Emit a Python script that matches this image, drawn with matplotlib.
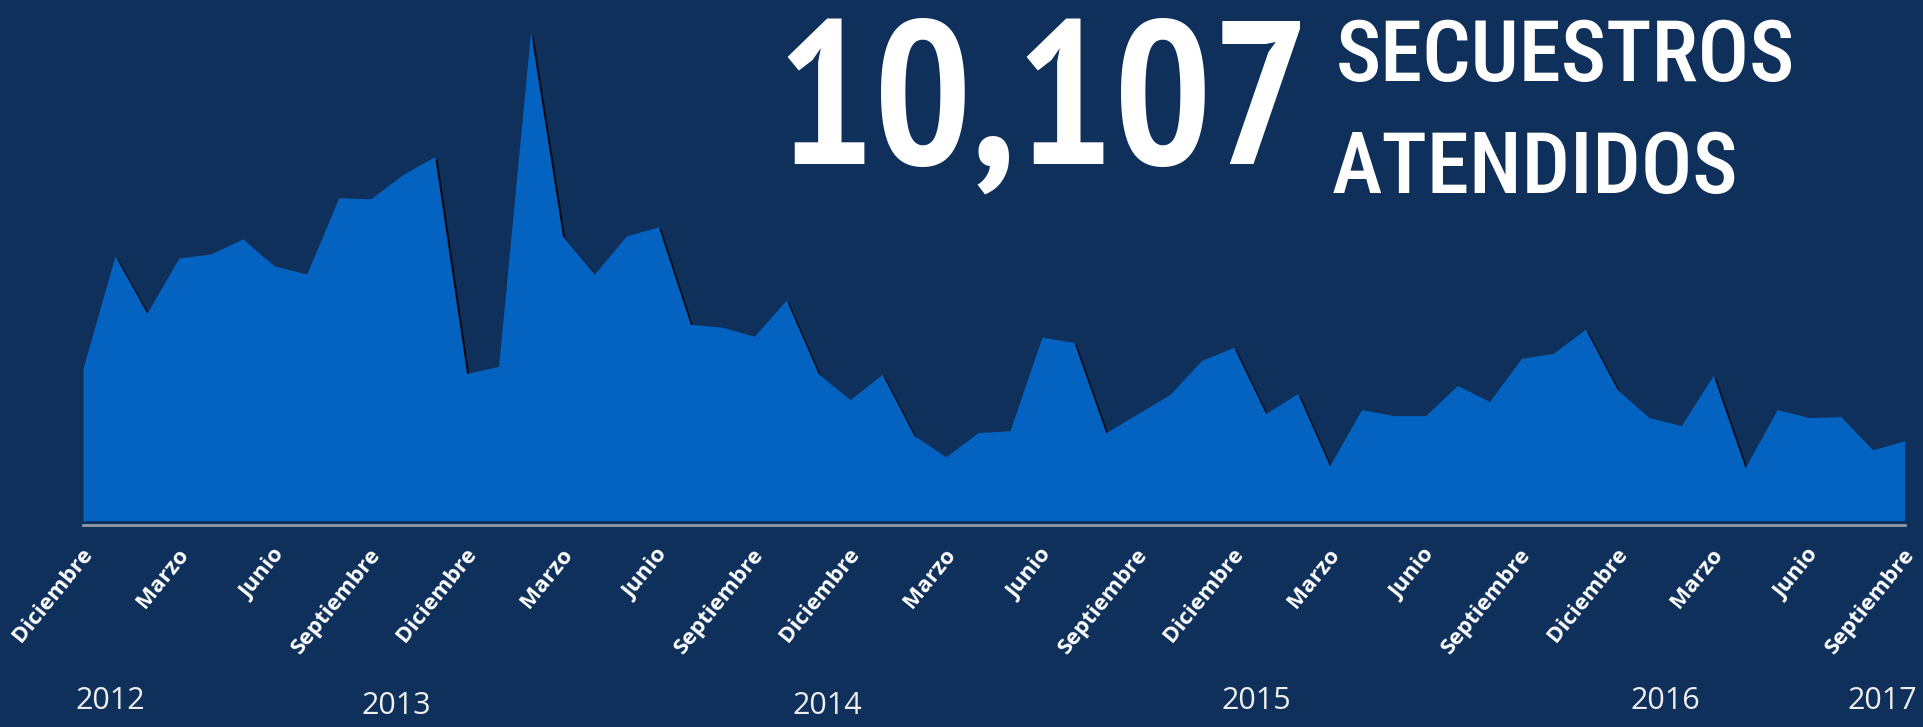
import matplotlib
matplotlib.use("Agg")
import matplotlib.pyplot as plt
from matplotlib import font_manager, transforms

# ---------------- data ----------------
months_idx = list(range(58))  # Dic 2012 ... Sep 2017 (monthly)
secuestros = [152, 264, 207, 262, 266, 281, 254, 246, 322, 321,
              345, 363, 147, 154, 487, 284, 246, 284, 293, 196,
              193, 184, 220, 147, 121, 146, 85, 64, 88, 90,
              183, 178, 88, 107, 126, 160, 173, 107, 127, 55,
              111, 105, 105, 135, 119, 162, 167, 191, 131, 103,
              95, 145, 53, 111, 103, 104, 71, 80]
tick_labels = ["Diciembre", "Marzo", "Junio", "Septiembre"] * 5
tick_step = 3
year_labels = ["2012", "2013", "2014", "2015", "2016", "2017"]
year_pos = [0.85, 9.8, 23.3, 36.7, 49.5, 56.3]
year_dy = [0, 5, 5, 0, 0, 0]  # small vertical stagger (px) as in reference
total_text = "10,107"
title_lines = ["SECUESTROS", "ATENDIDOS"]

BG = "#0F305A"
AREA = "#0463C0"

names = {f.name for f in font_manager.fontManager.ttflist}


def pick(*opts):
    for o in opts:
        if o in names:
            return o
    return "DejaVu Sans"


num_font = pick("PT Sans Narrow", "Archivo Narrow", "Carlito", "DejaVu Sans")
word_font = pick("Roboto Condensed", "Archivo Narrow", "PT Sans Narrow", "DejaVu Sans")
label_font = pick("Open Sans", "Noto Sans", "DejaVu Sans")

W, H = 1923, 727
fig = plt.figure(figsize=(W / 100, H / 100), dpi=100, facecolor=BG)
left, right, base = 83, 1905, 521
ax = fig.add_axes([left / W, (H - base) / H, (right - left) / W, base / H])
ax.set_facecolor(BG)
ax.patch.set_alpha(0)

# shadow (offset copy) then the area
shadow_tr = transforms.offset_copy(ax.transData, fig=fig, x=2.5, y=-2, units="dots")
ax.fill_between(months_idx, 0, secuestros, color="black", alpha=0.75,
                linewidth=0, transform=shadow_tr, zorder=1)
ax.fill_between(months_idx, 0, secuestros, color=AREA, linewidth=0, zorder=2)

ax.set_xlim(months_idx[0], months_idx[-1])
ax.set_ylim(0, 519)
for s in ["top", "left", "right"]:
    ax.spines[s].set_visible(False)
ax.spines["bottom"].set_position(("outward", 3))
ax.spines["bottom"].set_color("#8E9AA8")
ax.spines["bottom"].set_linewidth(2)
ax.set_yticks([])
ax.set_xticks([])

# rotated month labels
lab_tr = transforms.offset_copy(
    transforms.blended_transform_factory(ax.transData, ax.transAxes),
    fig=fig, x=6, y=-30, units="dots")
for k, lab in enumerate(tick_labels):
    ax.text(months_idx[k * tick_step], 0, lab, transform=lab_tr,
            rotation=51, rotation_mode="anchor", ha="right", va="center",
            color="white", fontsize=16.2, fontweight="bold",
            family=label_font, clip_on=False)

# year labels
for y, p, dy in zip(year_labels, year_pos, year_dy):
    tr = transforms.blended_transform_factory(ax.transData, fig.transFigure)
    ax.text(p, (H - 709 - dy) / H, y, transform=tr, ha="center",
            va="baseline", color="#EEEEEE", fontsize=22, family=label_font,
            clip_on=False)

# headline (font size fitted to the reference text widths)
fig.canvas.draw()
renderer = fig.canvas.get_renderer()


def fitted_text(x, y, s, target_w, family, weight, size0=60):
    t = fig.text(x / W, (H - y) / H, s, color="white", fontsize=size0,
                 fontweight=weight, ha="left", va="baseline", family=family)
    w = t.get_window_extent(renderer).width
    t.set_fontsize(size0 * target_w / w)
    return t


fitted_text(776, 164, total_text, 534, num_font, "bold")
t1 = fitted_text(1336, 81, title_lines[0], 460, word_font, "medium")
fig.text(1332 / W, (H - 193) / H, title_lines[1], color="white",
         fontsize=t1.get_fontsize(), fontweight="medium", ha="left",
         va="baseline", family=word_font)

fig.savefig("out.png", dpi=100, facecolor=BG)
